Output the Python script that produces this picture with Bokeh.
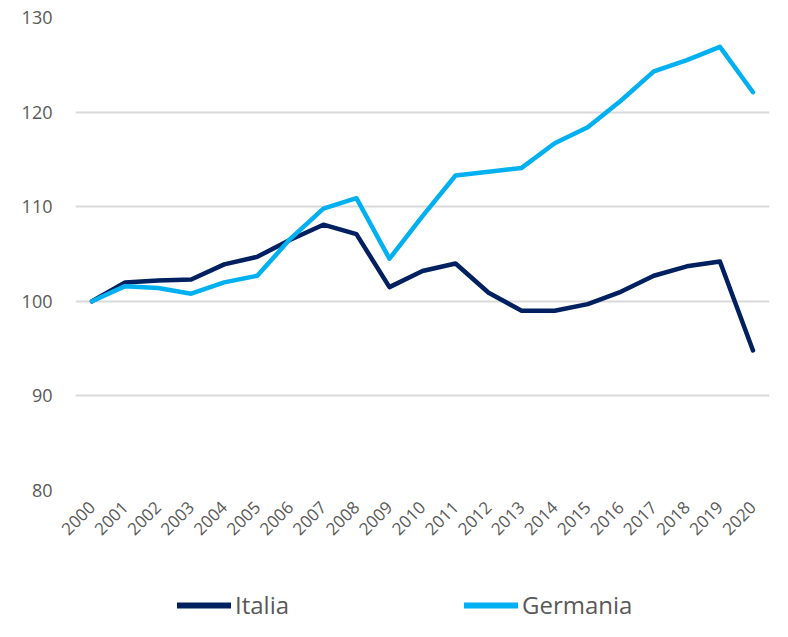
import math
from bokeh.plotting import figure
from bokeh.layouts import column
from bokeh.models import FixedTicker, Legend, ColumnDataSource
from bokeh.embed import file_html
from bokeh.resources import INLINE

years = list(range(2000, 2021))
italia = [100.0, 102.0, 102.2, 102.3, 103.9, 104.7, 106.5, 108.1, 107.1, 101.5,
          103.2, 104.0, 100.9, 99.0, 99.0, 99.7, 101.0, 102.7, 103.7, 104.2, 94.8]
germania = [100.0, 101.6, 101.4, 100.8, 102.0, 102.7, 106.6, 109.8, 110.9, 104.5,
            109.0, 113.3, 113.7, 114.1, 116.7, 118.4, 121.2, 124.3, 125.5, 126.9, 122.1]
y_ticks = [80, 90, 100, 110, 120, 130]
series_names = ["Italia", "Germania"]
series_colors = ["#002060", "#00B0F0"]

FONT = "Open Sans"
GRAY = "#595959"

src = ColumnDataSource(dict(year=years, italia=italia, germania=germania))

p = figure(width=772, height=585, x_range=(1999.5, 2020.5), y_range=(80, 130),
           output_backend="svg", toolbar_location=None,
           min_border_left=75, min_border_right=3, min_border_top=17, min_border_bottom=95)

p.outline_line_color = None
p.xgrid.visible = False
p.ygrid.grid_line_color = "#d9d9d9"
p.ygrid.grid_line_width = 2

p.yaxis.ticker = FixedTicker(ticks=y_ticks)
p.yaxis.axis_line_color = None
p.yaxis.major_tick_line_color = None
p.yaxis.minor_tick_line_color = None
p.yaxis.major_label_standoff = 17
p.yaxis.major_label_text_font = FONT
p.yaxis.major_label_text_font_size = "18px"
p.yaxis.major_label_text_color = GRAY

p.xaxis.ticker = FixedTicker(ticks=years)
p.xaxis.axis_line_color = None
p.xaxis.major_tick_line_color = None
p.xaxis.minor_tick_line_color = None
p.xaxis.major_label_orientation = math.pi / 4
p.xaxis.major_label_standoff = 8
p.xaxis.major_label_text_font = FONT
p.xaxis.major_label_text_font_size = "17px"
p.xaxis.major_label_text_color = GRAY

p.line("year", "italia", source=src, line_color=series_colors[0], line_width=4.5,
       line_join="round", line_cap="round")
p.line("year", "germania", source=src, line_color=series_colors[1], line_width=4.5,
       line_join="round", line_cap="round")

# legend strip below the chart (renderers sit outside the visible range)
leg = figure(width=772, height=36, x_range=(0, 1), y_range=(0, 1),
             output_backend="svg", toolbar_location=None,
             min_border_left=0, min_border_right=0, min_border_top=0, min_border_bottom=0)
leg.axis.visible = False
leg.grid.visible = False
leg.outline_line_color = None
offscreen = ColumnDataSource(dict(x=[-10, -9], y=[-10, -10]))
items = []
for name, color in zip(series_names, series_colors):
    r = leg.line("x", "y", source=offscreen, line_color=color, line_width=6, line_cap="round")
    items.append((name, [r]))

legend = Legend(items=items, orientation="horizontal", location=(102, 0),
                glyph_width=54, glyph_height=30, label_standoff=4, spacing=175,
                label_text_font=FONT, label_text_font_size="24px", label_text_color=GRAY,
                border_line_color=None, background_fill_alpha=0, padding=0, margin=0)
leg.add_layout(legend, "center")

layout = column(p, leg, spacing=0)
open("out.html", "w").write(file_html(layout, INLINE))
